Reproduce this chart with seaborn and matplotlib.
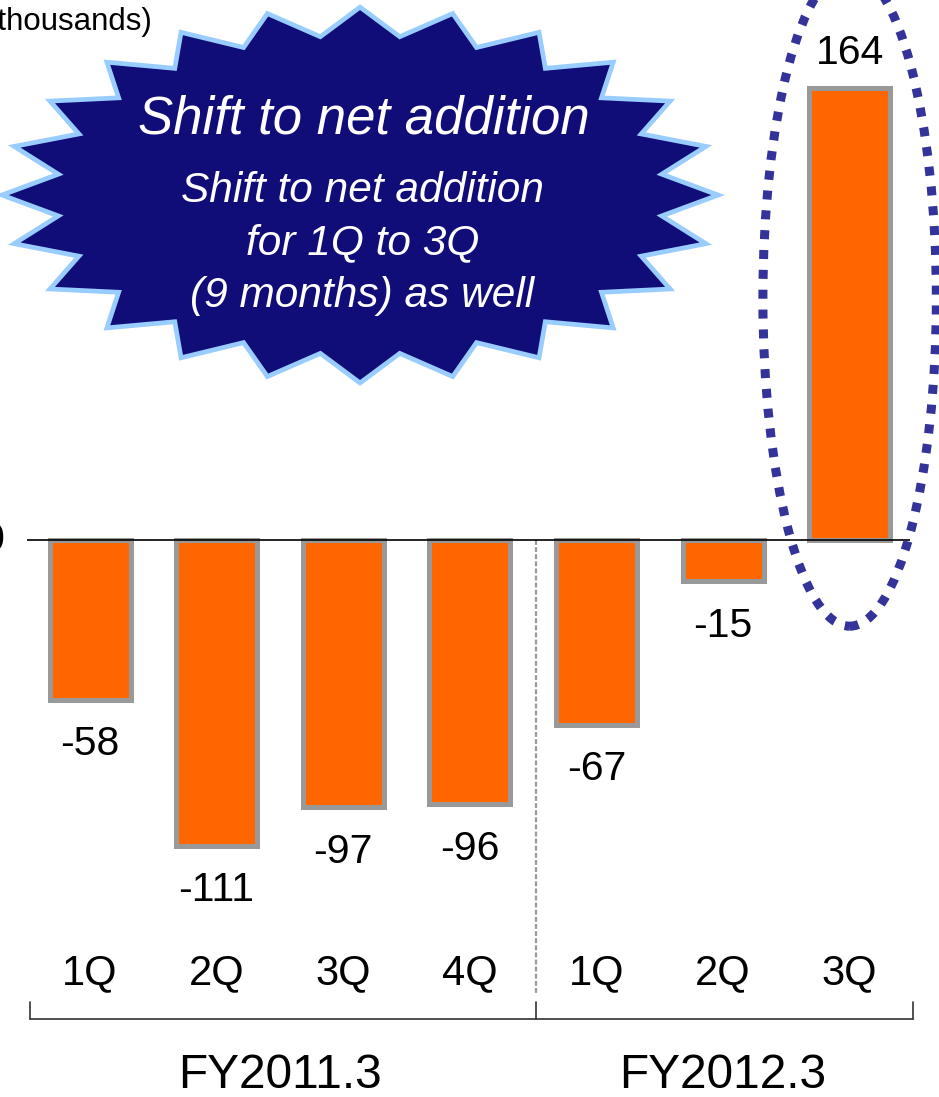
import numpy as np
import pandas as pd
import matplotlib
matplotlib.use("Agg")
import matplotlib.pyplot as plt
from matplotlib.patches import Polygon, Ellipse
import seaborn as sns

# Quarterly net additions (thousands)
fiscal_years = ["FY2011.3", "FY2012.3"]
quarters = ["1Q", "2Q", "3Q", "4Q", "1Q", "2Q", "3Q"]
year_of_bar = ["FY2011.3", "FY2011.3", "FY2011.3", "FY2011.3",
               "FY2012.3", "FY2012.3", "FY2012.3"]
net_additions = [-58, -111, -97, -96, -67, -15, 164]

unit_label = "(thousands)"
burst_title = "Shift to net addition"
burst_lines = ["Shift to net addition", "for 1Q to 3Q", "(9 months) as well"]

sns.set_theme(style="white")
plt.rcParams["font.family"] = ["Liberation Sans", "DejaVu Sans"]
plt.rcParams["text.color"] = "black"

df = pd.DataFrame({
    "period": [f"{y} {q}" for y, q in zip(year_of_bar, quarters)],
    "value": net_additions,
})

fig = plt.figure(figsize=(9.39, 10.97), dpi=100)
ax = fig.add_axes([0, 0, 1, 1])

ORANGE = "#FF6600"
EDGE = "#999999"
NAVY = "#100C78"
LIGHT = "#99CCFF"
RING = "#333399"

sns.barplot(data=df, x="period", y="value", color=ORANGE, saturation=1,
            width=0.64, edgecolor=EDGE, linewidth=3.6, ax=ax, zorder=3)

ax.set_xlim(-0.711, 6.706)
ax.set_ylim(-202.2, 196.0)
ax.axis("off")

# zero baseline
ax.plot([-0.498, 6.477], [0, 0], color="black", lw=1.2, zorder=4,
        solid_capstyle="butt")
ax.text(-0.675, 0, "0", ha="right", va="center", fontsize=29.5)

# value labels
for i, v in enumerate(net_additions):
    off = 25 if v > 0 else -32
    ax.annotate(f"{v}", (i, v), xytext=(0, off), textcoords="offset points",
                ha="center", va="center", fontsize=29.5, color="black")

# separator between fiscal years
ax.plot([3.52, 3.52], [0, -165], color="#9a9a9a", lw=1.6,
        linestyle=(0, (2.2, 1.0)), zorder=2)

# quarter labels
for i, q in enumerate(quarters):
    ax.text(i, -157.2, q, ha="center", va="center", fontsize=30)

# bracket under the quarters
bk_y, bk_top = -173.9, -167.6
ax.plot([-0.474, 6.5], [bk_y, bk_y], color="#333333", lw=1.2)
for bx in (-0.474, 3.52, 6.5):
    ax.plot([bx, bx], [bk_y, bk_top], color="#333333", lw=1.2)

# fiscal year labels
year_centers = [1.5, 5.0]
for fy, cx in zip(fiscal_years, year_centers):
    ax.text(cx, -194.5, fy, ha="center", va="center", fontsize=34.5)

# unit label in the corner
ax.text(0.49, 188.0, unit_label, ha="right", va="center", fontsize=22.5)

# explosion callout
cx, cy, rx, ry, r_in = 2.133, 125.2, 2.828, 68.2, 0.85
ang = np.deg2rad(90 + 7.5 * np.arange(48))
rad = np.where(np.arange(48) % 2 == 0, 1.0, r_in)
pts = np.column_stack([cx + rx * rad * np.cos(ang), cy + ry * rad * np.sin(ang)])
ax.add_patch(Polygon(pts, closed=True, facecolor=NAVY, edgecolor=LIGHT,
                     lw=3.4, joinstyle="miter", zorder=5))
ax.text(2.16, 152.8, burst_title, ha="center", va="center", fontsize=38,
        style="italic", color="white", zorder=6)
for k, line in enumerate(burst_lines):
    ax.text(2.15, 126.6 - 19.0 * k, line, ha="center", va="center",
            fontsize=30.5, style="italic", color="white", zorder=6)

# dotted ring highlighting the latest quarter
ax.add_patch(Ellipse((6.0, 87.7), 1.37, 238.0, fill=False, edgecolor=RING,
                     lw=6.5, linestyle=(0, (1, 1.2)), zorder=6))

fig.savefig("out.png", dpi=100)
